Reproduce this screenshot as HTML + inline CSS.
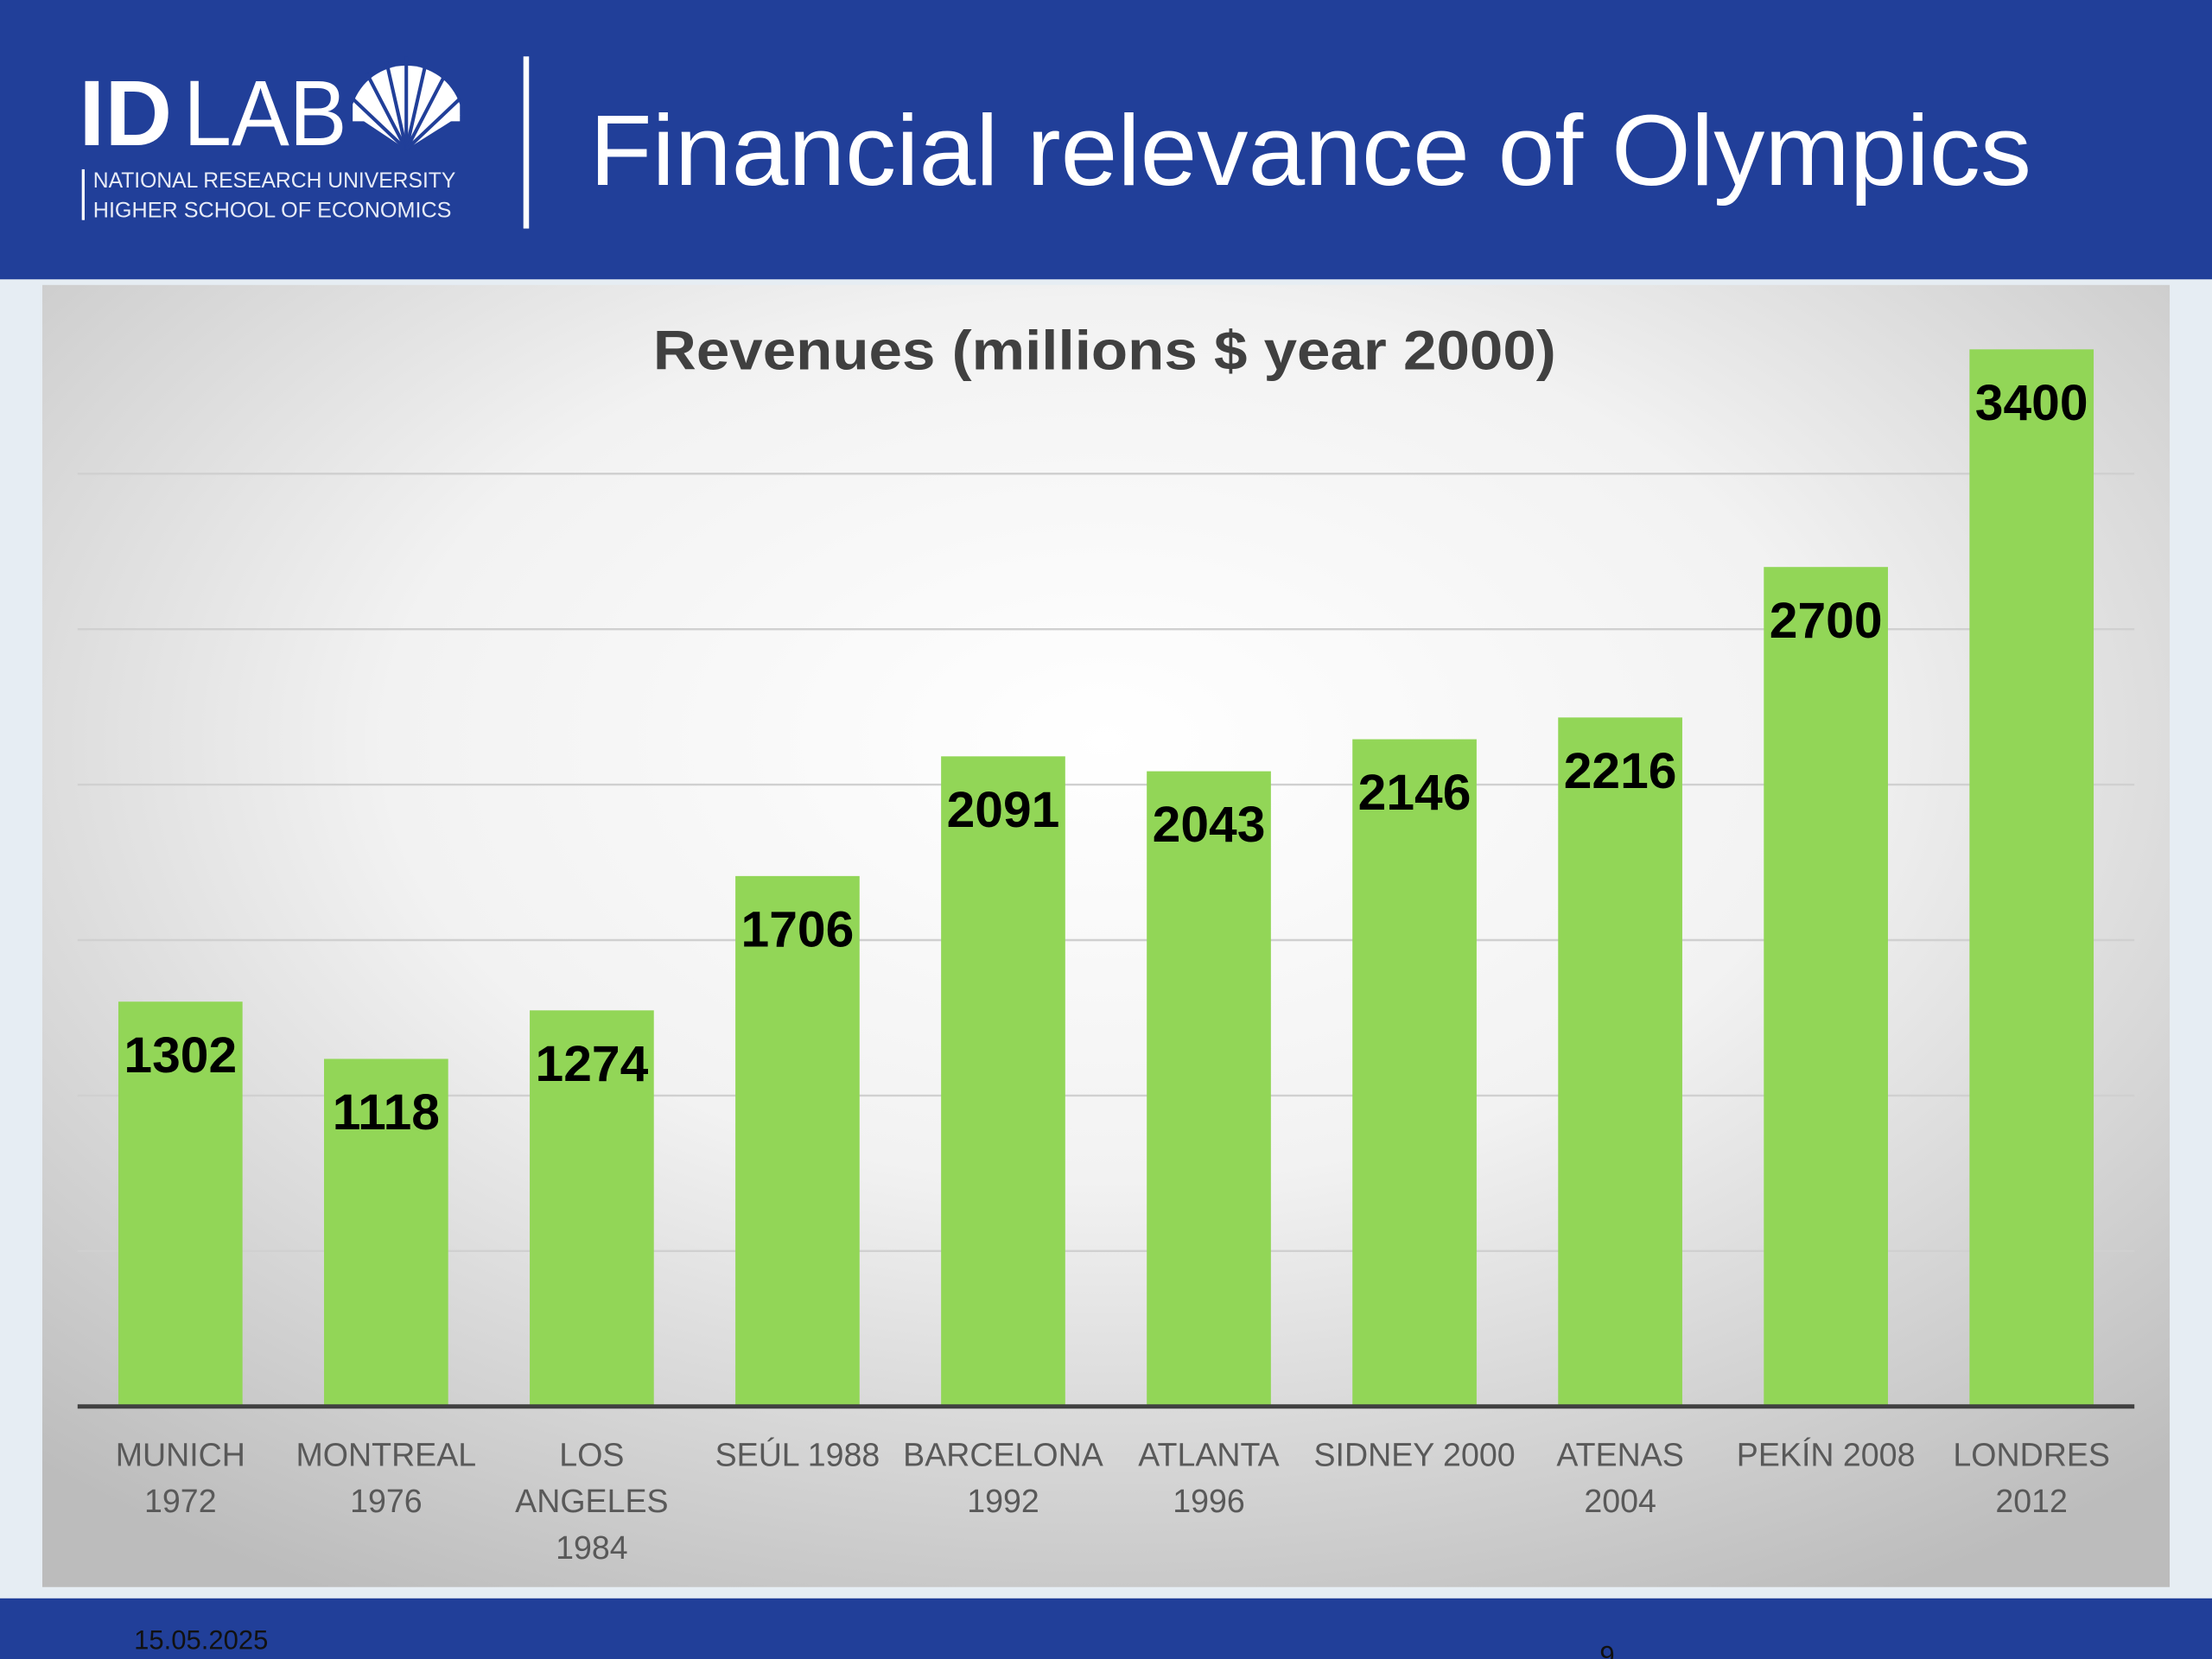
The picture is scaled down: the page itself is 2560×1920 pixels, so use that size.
<!DOCTYPE html>
<html><head><meta charset="utf-8">
<style>
html,body{margin:0;padding:0;width:2560px;height:1920px;overflow:hidden;background:#e6edf3;}
svg{display:block;}
text{font-family:"Liberation Sans",sans-serif;}
</style></head>
<body>
<svg id="s" width="2560" height="1920" viewBox="0 0 1568 1176" xmlns="http://www.w3.org/2000/svg">
<defs>
<radialGradient id="bg" cx="50%" cy="35%" r="75%">
<stop offset="0" stop-color="#ffffff"/>
<stop offset="0.45" stop-color="#f2f2f2"/>
<stop offset="1" stop-color="#bcbcbc"/>
</radialGradient>
</defs>
<rect x="0" y="0" width="1568" height="1176" fill="#e6edf3"/>
<rect x="0" y="0" width="1568" height="198" fill="#213f99"/>
<g>
<text x="56" y="103" font-size="66" fill="#fff" font-weight="bold">ID</text>
<text x="130" y="103" font-size="66" fill="#fff" textLength="116" lengthAdjust="spacingAndGlyphs">LAB</text>
<g>
<path d="M288 106 L252 82 A38 38 0 0 1 326 82 Z" fill="#fff"/>
<path d="M250 74 A40 40 0 0 1 326 74 L326 86 L250 86 Z" fill="#fff"/>
<g stroke="#213f99" stroke-width="2.5">
<line x1="288" y1="106" x2="250" y2="70"/><line x1="288" y1="106" x2="260" y2="52"/>
<line x1="288" y1="106" x2="274" y2="44"/><line x1="288" y1="106" x2="288" y2="40"/>
<line x1="288" y1="106" x2="302" y2="44"/><line x1="288" y1="106" x2="316" y2="52"/>
<line x1="288" y1="106" x2="326" y2="70"/>
</g>
</g>
<rect x="58" y="120" width="2" height="36" fill="#fff"/>
<text x="66" y="133" font-size="15.5" fill="#e8ecf7" textLength="257" lengthAdjust="spacingAndGlyphs">NATIONAL RESEARCH UNIVERSITY</text>
<text x="66" y="154" font-size="15.5" fill="#e8ecf7" textLength="254" lengthAdjust="spacingAndGlyphs">HIGHER SCHOOL OF ECONOMICS</text>
</g>
<rect x="371" y="40" width="4" height="122" fill="#fff"/>
<text x="418" y="131" font-size="71" fill="#fff" textLength="1022" lengthAdjust="spacingAndGlyphs">Financial relevance of Olympics</text>
<rect x="30" y="202" width="1508" height="923" fill="url(#bg)"/>
<text x="783" y="262" font-size="39" font-weight="bold" fill="#404040" text-anchor="middle" textLength="640" lengthAdjust="spacingAndGlyphs">Revenues (millions $ year 2000)</text>
<g id="grid"></g>
<g id="bars"></g>
<line x1="55" y1="997" x2="1513" y2="997" stroke="#404040" stroke-width="3"/>
<g id="xl"></g>
<rect x="0" y="1133" width="1568" height="43" fill="#213f99"/>
<text x="95" y="1169" font-size="19" fill="#111">15.05.2025</text>
<text x="1134" y="1180" font-size="19" fill="#111">9</text>
</svg>
<script>
const categories=[["MUNICH","1972"],["MONTREAL","1976"],["LOS","ANGELES","1984"],["SEÚL 1988"],["BARCELONA","1992"],["ATLANTA","1996"],["SIDNEY 2000"],["ATENAS","2004"],["PEKÍN 2008"],["LONDRES","2012"]];
const values=[1302,1118,1274,1706,2091,2043,2146,2216,2700,3400];
const gridTicks=[500,1000,1500,2000,2500,3000];
const NS="http://www.w3.org/2000/svg";
const x0=55,x1=1513,yBase=997,pxPerUnit=110.2/500;
const y=v=>yBase-v*pxPerUnit;
const band=(x1-x0)/categories.length;
const cx=i=>x0+band*(i+0.5);
function mk(t,a,p){const e=document.createElementNS(NS,t);for(const k in a)e.setAttribute(k,a[k]);p.appendChild(e);return e;}
const g=document.getElementById('grid');
gridTicks.forEach(t=>{const l=mk('line',{x1:x0,x2:x1,y1:y(t),y2:y(t),stroke:'#d0d0d0','stroke-width':1.5},g);

});
const b=document.getElementById('bars');
values.forEach((v,i)=>{const r=mk('rect',{x:cx(i)-44,y:y(v),width:88,height:yBase-y(v),fill:'#92d657'},b);


const t=mk('text',{x:cx(i),y:y(v)+50,'font-size':36,'font-weight':'bold',fill:'#000','text-anchor':'middle'},b);
t.textContent=v;

});
const xl=document.getElementById('xl');
categories.forEach((c,i)=>{c.forEach((line,j)=>{const t=mk('text',{x:cx(i),y:1039+j*33,'font-size':23,fill:'#595959','text-anchor':'middle'},xl);
t.textContent=line;

});});
</script>
</body></html>
